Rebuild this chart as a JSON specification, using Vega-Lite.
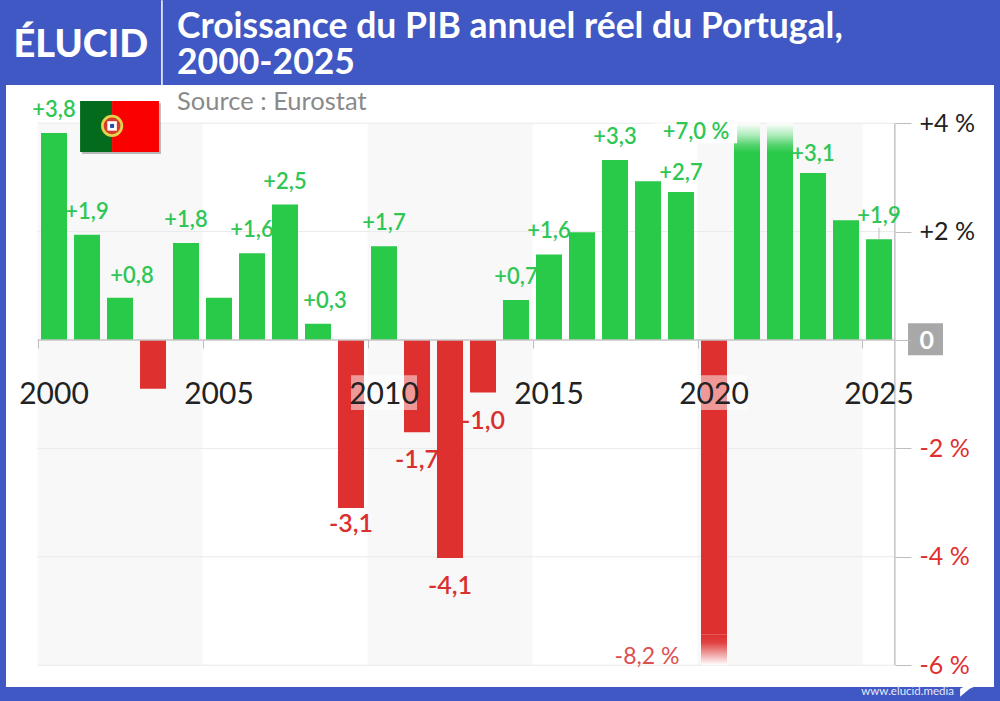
{
  "$schema": "https://vega.github.io/schema/vega-lite/v6.json",
  "width": 988,
  "height": 602,
  "autosize": "none",
  "padding": {"left": 6, "top": 85, "right": 6, "bottom": 14},
  "background": "#3f58c3",
  "view": {"fill": "#ffffff", "stroke": null},
  "title": {
    "text": ["Croissance du PIB annuel réel du Portugal,", "2000-2025"],
    "anchor": "start",
    "frame": "group",
    "dx": 171,
    "dy": 90,
    "offset": 8,
    "font": "Lato",
    "fontSize": 35.5,
    "fontWeight": 700,
    "lineHeight": 36,
    "color": "#ffffff"
  },
  "config": {"font": "Lato"},
  "resolve": {"axis": {"x": "independent", "y": "independent"}},
  "datasets": {
    "growth": [
      {"year": 2000, "shown": 3.82, "label": "+3,8"},
      {"year": 2001, "shown": 1.94, "label": "+1,9"},
      {"year": 2002, "shown": 0.78, "label": "+0,8"},
      {"year": 2003, "shown": -0.9, "label": null},
      {"year": 2004, "shown": 1.79, "label": "+1,8"},
      {"year": 2005, "shown": 0.78, "label": null},
      {"year": 2006, "shown": 1.6, "label": "+1,6"},
      {"year": 2007, "shown": 2.5, "label": "+2,5"},
      {"year": 2008, "shown": 0.3, "label": "+0,3"},
      {"year": 2009, "shown": -3.1, "label": "-3,1"},
      {"year": 2010, "shown": 1.73, "label": "+1,7"},
      {"year": 2011, "shown": -1.7, "label": "-1,7"},
      {"year": 2012, "shown": -4.02, "label": "-4,1"},
      {"year": 2013, "shown": -0.97, "label": "-1,0"},
      {"year": 2014, "shown": 0.74, "label": "+0,7"},
      {"year": 2015, "shown": 1.58, "label": "+1,6"},
      {"year": 2016, "shown": 1.99, "label": null},
      {"year": 2017, "shown": 3.32, "label": "+3,3"},
      {"year": 2018, "shown": 2.93, "label": null},
      {"year": 2019, "shown": 2.73, "label": "+2,7"},
      {"year": 2020, "shown": -5.44, "label": "-8,2 %"},
      {"year": 2021, "shown": 3.45, "label": null},
      {"year": 2022, "shown": 3.45, "label": "+7,0 %"},
      {"year": 2023, "shown": 3.08, "label": "+3,1"},
      {"year": 2024, "shown": 2.21, "label": null},
      {"year": 2025, "shown": 1.86, "label": "+1,9"}
    ],
    "fades": [
      {"year": 2020, "from": -5.44, "to": -6},
      {"year": 2021, "from": 3.45, "to": 4},
      {"year": 2022, "from": 3.45, "to": 4}
    ],
    "bands": [
      {"from": 1999.5, "to": 2004.5},
      {"from": 2009.5, "to": 2014.5},
      {"from": 2019.5, "to": 2024.5}
    ],
    "grid": [{"level": 4}, {"level": 2}, {"level": -2}, {"level": -4}, {"level": -6}],
    "labelYears": [{"year": 2010}, {"year": 2020}]
  },
  "layer": [
    {
      "data": {"name": "bands"},
      "mark": {"type": "rect", "color": "#f8f8f8"},
      "encoding": {
        "x": {"field": "from", "type": "quantitative", "axis": null, "scale": {"domain": [1998.545, 2028.485], "nice": false, "zero": false, "padding": 0}},
        "x2": {"field": "to"},
        "y": {"datum": 4, "axis": null, "scale": {"domain": [-6.402, 4.705], "nice": false, "zero": false, "padding": 0}},
        "y2": {"datum": -6}
      }
    },
    {
      "data": {"name": "grid"},
      "mark": {"type": "rule", "color": "#e9e9e9", "strokeWidth": 1},
      "encoding": {
        "x": {"datum": 1999.5, "axis": null},
        "x2": {"datum": 2025.48},
        "y": {"field": "level", "type": "quantitative", "axis": null}
      }
    },
    {
      "data": {"name": "growth"},
      "mark": {"type": "bar", "width": 26, "orient": "vertical"},
      "encoding": {
        "x": {
          "field": "year",
          "type": "quantitative",
          "title": null,
          "scale": {"domain": [1998.545, 2028.485], "nice": false, "zero": false, "padding": 0},
          "axis": {
            "orient": "bottom",
            "offset": -347,
            "zindex": 1,
            "values": [1999.5, 2004.5, 2009.5, 2014.5, 2019.5, 2024.5],
            "labelExpr": "'' + (datum.value + 0.5)",
            "labelOffset": 16,
            "labelPadding": 31,
            "labelFontSize": 30,
            "labelColor": "#222222",
            "labelBound": false,
            "labelFlush": false,
            "labelOverlap": false,
            "domain": false,
            "grid": false,
            "tickSize": 8,
            "tickColor": "#bdbdbd"
          }
        },
        "y": {
          "field": "shown",
          "type": "quantitative",
          "title": null,
          "scale": {"domain": [-6.402, 4.705], "nice": false, "zero": false, "padding": 0},
          "axis": {
            "orient": "right",
            "offset": -99,
            "zindex": 1,
            "values": [4, 2, 0, -2, -4, -6],
            "labelExpr": "datum.value > 0 ? '+' + datum.value + ' %' : datum.value == 0 ? '0' : datum.value + ' %'",
            "labelPadding": 8,
            "labelFontSize": 25,
            "labelFontWeight": {"condition": {"test": "datum.value == 0", "value": 700}, "value": 400},
            "labelAlign": "left",
            "labelBound": false,
            "labelFlush": false,
            "labelOverlap": false,
            "labelColor": {"condition": [{"test": "datum.value == 0", "value": "#ffffff"}, {"test": "datum.value < 0", "value": "#df2f2f"}], "value": "#222222"},
            "domain": false,
            "grid": false,
            "tickSize": 16,
            "tickColor": "#bdbdbd"
          }
        },
        "y2": {"datum": 0},
        "color": {"condition": {"test": "datum.shown < 0", "value": "#df3030"}, "value": "#29c949"}
      }
    },
    {
      "data": {"name": "fades"},
      "transform": [{"filter": "datum.to > 0"}],
      "mark": {
        "type": "bar",
        "width": 26,
        "orient": "vertical",
        "color": {"gradient": "linear", "x1": 0, "y1": 0, "x2": 0, "y2": 1, "stops": [{"offset": 0, "color": "#ffffff"}, {"offset": 0.4, "color": "#aeecbb"}, {"offset": 0.75, "color": "#4fd26a"}, {"offset": 1, "color": "#29c949"}]}
      },
      "encoding": {
        "x": {"field": "year", "type": "quantitative", "axis": null},
        "y": {"field": "to", "type": "quantitative", "axis": null},
        "y2": {"field": "from"}
      }
    },
    {
      "data": {"name": "fades"},
      "transform": [{"filter": "datum.to < 0"}],
      "mark": {
        "type": "bar",
        "width": 26,
        "orient": "vertical",
        "color": {"gradient": "linear", "x1": 0, "y1": 0, "x2": 0, "y2": 1, "stops": [{"offset": 0, "color": "#df3030"}, {"offset": 0.25, "color": "#e14040"}, {"offset": 0.6, "color": "#ee9a9a"}, {"offset": 1, "color": "#ffffff"}]}
      },
      "encoding": {
        "x": {"field": "year", "type": "quantitative", "axis": null},
        "y": {"field": "from", "type": "quantitative", "axis": null},
        "y2": {"field": "to"}
      }
    },
    {
      "data": {"name": "labelYears"},
      "mark": {"type": "bar", "width": 66, "orient": "vertical", "color": "#ffffff", "opacity": 0.5},
      "encoding": {
        "x": {"field": "year", "type": "quantitative", "axis": null},
        "y": {"datum": -0.65, "axis": null},
        "y2": {"datum": -1.29}
      }
    },
    {
      "mark": {"type": "rule", "color": "#c4c4c4", "strokeWidth": 1.5},
      "data": {"values": [{}]},
      "encoding": {
        "x": {"datum": 1999.5, "axis": null},
        "x2": {"datum": 2025.48},
        "y": {"datum": 0, "axis": null}
      }
    },
    {
      "mark": {"type": "rule", "color": "#c4c4c4", "strokeWidth": 1.5},
      "data": {"values": [{}]},
      "encoding": {
        "x": {"datum": 2025.48, "axis": null},
        "y": {"datum": 4, "axis": null},
        "y2": {"datum": -6}
      }
    },
    {
      "data": {"name": "growth"},
      "transform": [{"filter": "datum.year == 2025"}],
      "mark": {"type": "rule", "color": "#bdbdbd"},
      "encoding": {
        "x": {"field": "year", "type": "quantitative", "axis": null},
        "y": {"field": "shown", "type": "quantitative", "axis": null},
        "y2": {"datum": 2.07}
      }
    },
    {
      "mark": {"type": "rect", "color": "#a8a8a8"},
      "data": {"values": [{}]},
      "encoding": {
        "x": {"datum": 2025.88, "axis": null},
        "x2": {"datum": 2026.94},
        "y": {"datum": 0.31, "axis": null},
        "y2": {"datum": -0.28}
      }
    },
    {
      "mark": {"type": "rect", "color": "#ffffff"},
      "data": {"values": [{}]},
      "encoding": {
        "x": {"datum": 2018.2, "axis": null},
        "x2": {"datum": 2020.7},
        "y": {"datum": 4, "axis": null},
        "y2": {"datum": 3.63}
      }
    },
    {
      "data": {"name": "growth"},
      "transform": [{"filter": "datum.shown > 0 && datum.label && indexof([2002, 2008, 2019, 2022, 2023], datum.year) < 0"}],
      "mark": {"type": "text", "dy": -23, "fontSize": 22, "color": "#2fc655", "fontWeight": 600},
      "encoding": {
        "x": {"field": "year", "type": "quantitative", "axis": null},
        "y": {"field": "shown", "type": "quantitative", "axis": null},
        "text": {"field": "label"}
      }
    },
    {
      "data": {"name": "growth"},
      "transform": [{"filter": "datum.year == 2019 || datum.year == 2023"}],
      "mark": {"type": "text", "dy": -19, "fontSize": 22, "color": "#2fc655", "fontWeight": 600},
      "encoding": {
        "x": {"field": "year", "type": "quantitative", "axis": null},
        "y": {"field": "shown", "type": "quantitative", "axis": null},
        "text": {"field": "label"}
      }
    },
    {
      "data": {"name": "growth"},
      "transform": [{"filter": "datum.year == 2002"}],
      "mark": {"type": "text", "dx": 12, "dy": -22, "fontSize": 22, "color": "#2fc655", "fontWeight": 600},
      "encoding": {
        "x": {"field": "year", "type": "quantitative", "axis": null},
        "y": {"field": "shown", "type": "quantitative", "axis": null},
        "text": {"field": "label"}
      }
    },
    {
      "data": {"name": "growth"},
      "transform": [{"filter": "datum.year == 2008"}],
      "mark": {"type": "text", "dx": 7, "dy": -23, "fontSize": 22, "color": "#2fc655", "fontWeight": 600},
      "encoding": {
        "x": {"field": "year", "type": "quantitative", "axis": null},
        "y": {"field": "shown", "type": "quantitative", "axis": null},
        "text": {"field": "label"}
      }
    },
    {
      "data": {"name": "growth"},
      "transform": [{"filter": "datum.year == 2022"}],
      "mark": {"type": "text", "dx": -84, "dy": 9, "fontSize": 22, "color": "#2fc655", "fontWeight": 600},
      "encoding": {
        "x": {"field": "year", "type": "quantitative", "axis": null},
        "y": {"datum": 4, "axis": null},
        "text": {"field": "label"}
      }
    },
    {
      "data": {"name": "growth"},
      "transform": [{"filter": "datum.shown < 0 && datum.label && datum.year != 2009 && datum.year != 2020"}],
      "mark": {"type": "text", "dy": 28, "fontSize": 25, "color": "#d9302f", "fontWeight": 600},
      "encoding": {
        "x": {"field": "year", "type": "quantitative", "axis": null},
        "y": {"field": "shown", "type": "quantitative", "axis": null},
        "text": {"field": "label"}
      }
    },
    {
      "data": {"name": "growth"},
      "transform": [{"filter": "datum.year == 2009"}],
      "mark": {"type": "text", "dy": 16, "fontSize": 25, "color": "#d9302f", "fontWeight": 600},
      "encoding": {
        "x": {"field": "year", "type": "quantitative", "axis": null},
        "y": {"field": "shown", "type": "quantitative", "axis": null},
        "text": {"field": "label"}
      }
    },
    {
      "data": {"name": "growth"},
      "transform": [{"filter": "datum.year == 2020"}],
      "mark": {"type": "text", "dx": -67, "dy": -8, "fontSize": 23, "color": "#dc5050"},
      "encoding": {
        "x": {"field": "year", "type": "quantitative", "axis": null},
        "y": {"datum": -6, "axis": null},
        "text": {"field": "label"}
      }
    },
    {
      "mark": {"type": "text", "align": "left", "fontSize": 25.5, "color": "#8a8a8a"},
      "data": {"values": [{"note": "Source : Eurostat"}]},
      "encoding": {
        "x": {"datum": 2003.73, "axis": null},
        "y": {"datum": 4.39, "axis": null},
        "text": {"field": "note"}
      }
    },
    {
      "mark": {"type": "text", "align": "left", "baseline": "alphabetic", "fontSize": 38, "fontWeight": 900, "color": "#ffffff"},
      "data": {"values": [{"note": "ÉLUCID"}]},
      "encoding": {
        "x": {"datum": 1998.77, "axis": null},
        "y": {"datum": 5.22, "axis": null},
        "text": {"field": "note"}
      }
    },
    {
      "mark": {"type": "rule", "color": "#ffffff", "strokeWidth": 1.5},
      "data": {"values": [{}]},
      "encoding": {
        "x": {"datum": 2003.27, "axis": null},
        "y": {"datum": 6.27, "axis": null},
        "y2": {"datum": 4.705}
      }
    },
    {
      "mark": {"type": "rect", "color": "#555555", "opacity": 0.4},
      "data": {"values": [{}]},
      "encoding": {
        "x": {"datum": 2000.85, "axis": null},
        "x2": {"datum": 2003.24},
        "y": {"datum": 4.37, "axis": null},
        "y2": {"datum": 3.43}
      }
    },
    {
      "mark": {"type": "rect", "color": "#046a1c"},
      "data": {"values": [{}]},
      "encoding": {
        "x": {"datum": 2000.79, "axis": null},
        "x2": {"datum": 2001.76},
        "y": {"datum": 4.41, "axis": null},
        "y2": {"datum": 3.47}
      }
    },
    {
      "mark": {"type": "rect", "color": "#fb0000"},
      "data": {"values": [{}]},
      "encoding": {
        "x": {"datum": 2001.76, "axis": null},
        "x2": {"datum": 2003.18},
        "y": {"datum": 4.41, "axis": null},
        "y2": {"datum": 3.47}
      }
    },
    {
      "mark": {"type": "point", "shape": "circle", "filled": true, "size": 490, "color": "#e2d24c", "opacity": 1},
      "data": {"values": [{}]},
      "encoding": {
        "x": {"datum": 2001.76, "axis": null},
        "y": {"datum": 3.95, "axis": null}
      }
    },
    {
      "mark": {"type": "point", "shape": "circle", "filled": true, "size": 280, "color": "#d83a2a", "opacity": 1},
      "data": {"values": [{}]},
      "encoding": {
        "x": {"datum": 2001.76, "axis": null},
        "y": {"datum": 3.95, "axis": null}
      }
    },
    {
      "mark": {"type": "point", "shape": "square", "filled": true, "size": 90, "color": "#ffffff", "opacity": 1},
      "data": {"values": [{}]},
      "encoding": {
        "x": {"datum": 2001.76, "axis": null},
        "y": {"datum": 3.95, "axis": null}
      }
    },
    {
      "mark": {"type": "point", "shape": "square", "filled": true, "size": 16, "color": "#2a4a9a", "opacity": 1},
      "data": {"values": [{}]},
      "encoding": {
        "x": {"datum": 2001.76, "axis": null},
        "y": {"datum": 3.95, "axis": null}
      }
    },
    {
      "mark": {"type": "text", "align": "right", "fontSize": 11.5, "color": "#e6e9f7"},
      "data": {"values": [{"note": "www.elucid.media"}]},
      "encoding": {
        "x": {"datum": 2027.27, "axis": null},
        "y": {"datum": -6.49, "axis": null},
        "text": {"field": "note"}
      }
    },
    {
      "mark": {"type": "point", "filled": true, "opacity": 1, "color": "#ffffff", "size": 300, "shape": "M-1 0.1L1 -1L1 -0.3L0.1 0.1L-1 1Z"},
      "data": {"values": [{}]},
      "encoding": {
        "x": {"datum": 2027.72, "axis": null},
        "y": {"datum": -6.42, "axis": null}
      }
    }
  ]
}
